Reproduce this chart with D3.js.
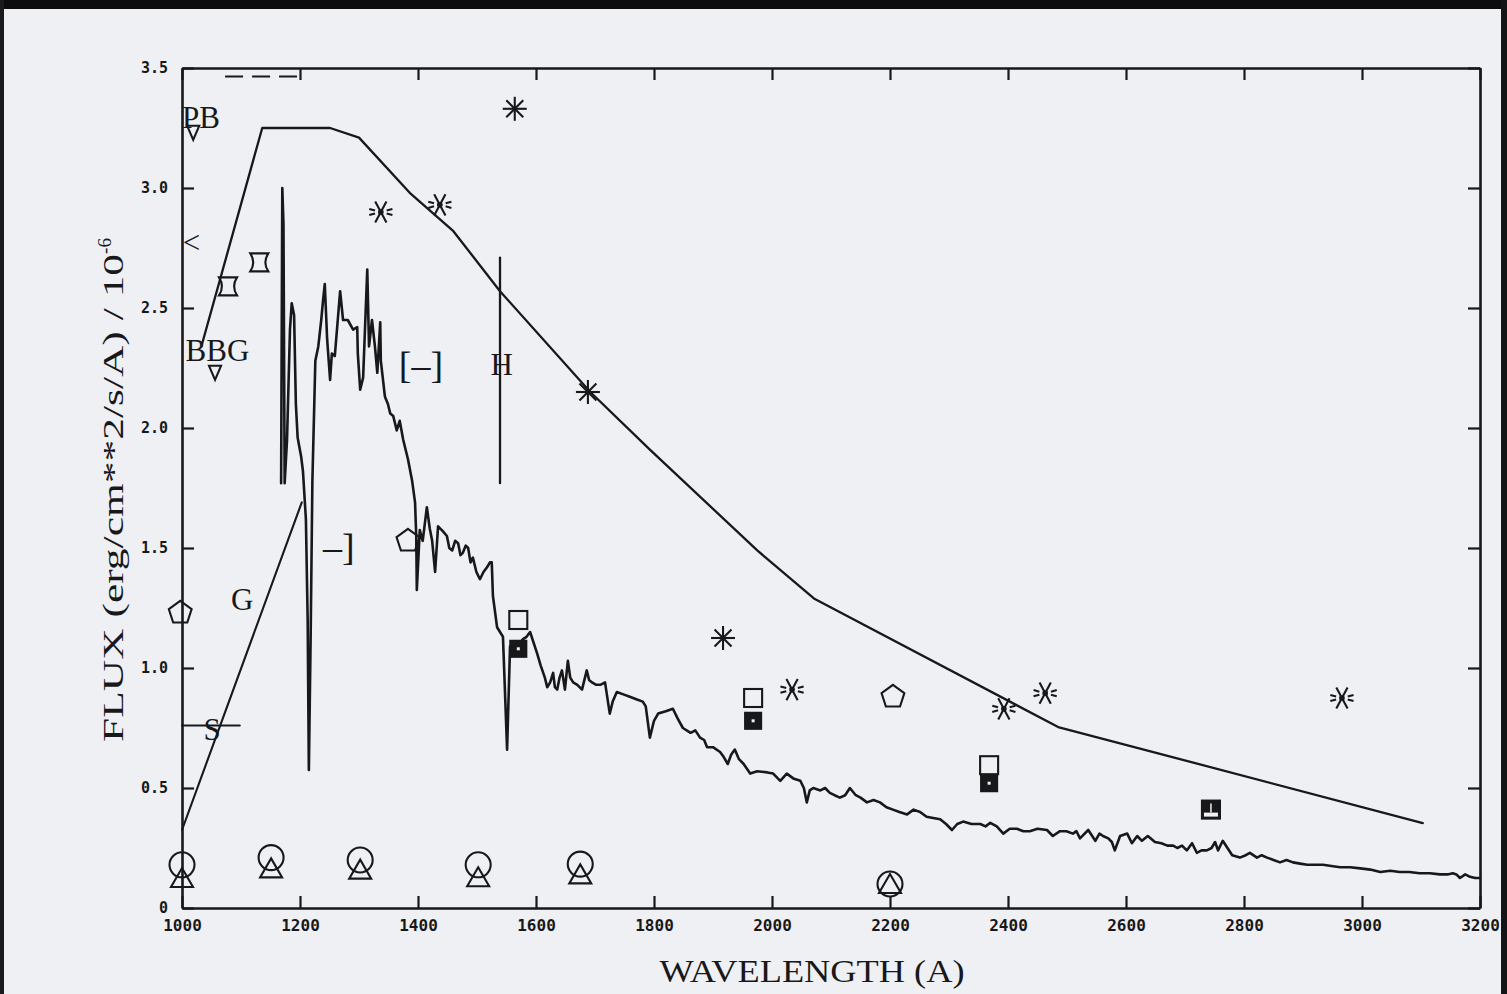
<!DOCTYPE html>
<html>
<head>
<meta charset="utf-8">
<script src="https://cdn.jsdelivr.net/npm/d3@7/dist/d3.min.js"></script>
<style>
  html, body { margin: 0; padding: 0; background: #eff0f4; }
  svg { display: block; }
</style>
</head>
<body>
<svg id="chart" width="1507" height="994"></svg>
<script>
// ---- data (wavelength in Angstrom, flux in 1e-6 erg/cm^2/s/A) ----
const xTicks = [1000, 1200, 1400, 1600, 1800, 2000, 2200, 2400, 2600, 2800, 3000, 3200];
const yTicks = [0, 0.5, 1.0, 1.5, 2.0, 2.5, 3.0, 3.5];

// observed spectrum
const spectrum = [
  [1168,1.77],[1170,3.00],[1172,2.85],[1174,1.77],[1178,1.95],[1183,2.41],[1186,2.52],[1190,2.47],
  [1193,2.10],[1196,1.96],[1199,1.92],[1202,1.88],[1205,1.82],[1210,1.62],[1213,1.20],[1215,0.575],
  [1218,1.12],[1221,1.78],[1226,2.28],[1231,2.34],[1236,2.45],[1239,2.53],[1242,2.60],[1246,2.37],
  [1251,2.20],[1254,2.31],[1259,2.30],[1268,2.57],[1273,2.45],[1281,2.45],[1290,2.41],[1297,2.42],
  [1298,2.31],[1302,2.16],[1307,2.21],[1314,2.66],[1317,2.34],[1322,2.45],[1327,2.34],[1331,2.23],
  [1336,2.44],[1337,2.28],[1344,2.13],[1349,2.10],[1353,2.06],[1358,2.05],[1364,1.99],[1369,2.03],
  [1375,1.95],[1383,1.87],[1390,1.78],[1395,1.69],[1397,1.55],[1398,1.325],[1403,1.575],[1408,1.53],
  [1415,1.67],[1420,1.58],[1424,1.53],[1429,1.40],[1434,1.59],[1442,1.57],[1449,1.55],[1453,1.50],
  [1458,1.49],[1463,1.53],[1468,1.52],[1472,1.47],[1476,1.48],[1481,1.51],[1485,1.50],[1489,1.44],
  [1493,1.46],[1499,1.40],[1505,1.37],[1511,1.40],[1517,1.42],[1522,1.44],[1525,1.44],[1527,1.30],
  [1534,1.17],[1539,1.15],[1544,1.13],[1551,0.66],[1556,1.09],[1564,1.10],[1571,1.10],[1578,1.12],
  [1584,1.13],[1590,1.15],[1602,1.06],[1608,1.01],[1615,0.96],[1619,0.92],[1624,0.94],[1629,0.98],
  [1632,0.92],[1636,0.91],[1640,0.96],[1644,0.99],[1649,0.91],[1654,1.03],[1658,0.96],[1663,0.94],
  [1670,0.93],[1678,0.91],[1686,0.99],[1690,0.95],[1695,0.94],[1702,0.93],[1709,0.93],[1717,0.94],
  [1725,0.81],[1730,0.86],[1737,0.90],[1748,0.89],[1759,0.88],[1770,0.87],[1781,0.86],[1786,0.84],
  [1793,0.71],[1800,0.78],[1807,0.81],[1820,0.82],[1832,0.83],[1840,0.79],[1849,0.75],[1862,0.73],
  [1870,0.74],[1878,0.71],[1885,0.70],[1890,0.67],[1900,0.67],[1912,0.65],[1918,0.63],[1925,0.60],
  [1931,0.64],[1937,0.66],[1944,0.62],[1952,0.60],[1963,0.56],[1975,0.57],[1992,0.565],[2002,0.56],
  [2014,0.53],[2025,0.56],[2036,0.54],[2048,0.53],[2054,0.50],[2059,0.44],[2064,0.49],[2070,0.50],
  [2082,0.49],[2090,0.50],[2098,0.48],[2106,0.47],[2115,0.46],[2124,0.47],[2132,0.50],[2142,0.47],
  [2150,0.46],[2161,0.44],[2172,0.45],[2183,0.44],[2194,0.42],[2205,0.41],[2216,0.40],[2229,0.39],
  [2240,0.41],[2251,0.40],[2262,0.38],[2273,0.375],[2285,0.37],[2295,0.35],[2305,0.325],[2314,0.35],
  [2324,0.36],[2338,0.35],[2353,0.35],[2362,0.34],[2370,0.355],[2381,0.34],[2392,0.31],[2403,0.33],
  [2415,0.33],[2426,0.32],[2437,0.32],[2450,0.33],[2466,0.325],[2476,0.30],[2488,0.32],[2499,0.32],
  [2510,0.31],[2516,0.32],[2522,0.29],[2536,0.325],[2548,0.28],[2555,0.31],[2561,0.30],[2570,0.29],
  [2576,0.275],[2581,0.24],[2590,0.30],[2602,0.31],[2610,0.27],[2619,0.30],[2627,0.28],[2637,0.30],
  [2649,0.275],[2660,0.27],[2670,0.26],[2680,0.26],[2687,0.25],[2695,0.26],[2703,0.24],[2712,0.27],
  [2720,0.23],[2728,0.24],[2737,0.24],[2745,0.25],[2751,0.275],[2756,0.24],[2764,0.28],[2772,0.25],
  [2780,0.22],[2793,0.21],[2803,0.22],[2810,0.23],[2822,0.21],[2830,0.22],[2839,0.21],[2850,0.20],
  [2861,0.19],[2872,0.20],[2883,0.19],[2895,0.185],[2907,0.18],[2920,0.18],[2934,0.18],[2948,0.175],
  [2963,0.17],[2980,0.17],[2997,0.165],[3014,0.16],[3031,0.15],[3048,0.155],[3064,0.15],[3080,0.15],
  [3098,0.145],[3115,0.145],[3132,0.14],[3145,0.14],[3154,0.145],[3160,0.14],[3166,0.125],[3175,0.14],
  [3183,0.13],[3192,0.125],[3200,0.125]
];

// upper envelope
const envelopeWl   = [1034, 1136, 1251, 1300, 1386, 1460, 1539, 1692, 1793, 1975, 2071, 2485, 3103];
const envelopeFlux = [2.35, 3.25, 3.25, 3.21, 2.98, 2.82, 2.57, 2.15, 1.91, 1.49, 1.29, 0.754, 0.354];

// "G" line
const gLineWl   = [1000, 1203];
const gLineFlux = [0.325, 1.69];

// dashed level near the top and the "S" level
const dashWl = [1073, 1195], dashFlux = 3.465;
const sWl = [1000, 1098], sFlux = 0.76;

// vertical bar through the "H" mark
const hBarWl = 1539, hBarFlux = [1.77, 2.71];

// symbol series
const starsSolid  = [[1564,3.33],[1688,2.15],[1917,1.125]];
const starsBroken = [[1337,2.90],[1437,2.93],[2034,0.91],[2393,0.83],[2463,0.895],[2966,0.875]];
const hourglass   = [[1078,2.59],[1131,2.69]];
const triDown     = [[1019,3.23],[1056,2.23]];
const pentagons   = [[997,1.23],[2205,0.88],[1383,1.53]];
const openSquares = [[1570,1.20],[1968,0.875],[2368,0.595]];
const fillSquares = [[1570,1.08],[1968,0.78],[2368,0.52]];
const markedSquare = [[2744,0.41]];
const circles   = [[1000,0.18],[1151,0.21],[1302,0.20],[1502,0.18],[1675,0.183],[2200,0.10]];
const triangles = [[1000,0.125],[1151,0.165],[1302,0.16],[1502,0.128],[1675,0.14],[2200,0.10]];

// text marks
const labels = [
  {t:"PB",  wl:1000, f:3.25, size:31, anchor:"start"},
  {t:"BBG", wl:1006, f:2.28, size:31, anchor:"start"},
  {t:"G",   wl:1102, f:1.24, size:31, anchor:"middle"},
  {t:"S",   wl:1051, f:0.70, size:31, anchor:"middle"},
  {t:"<",   wl:1016, f:2.73, size:31, anchor:"middle"},
  {t:"[\u2013]", wl:1405, f:2.21, size:38, anchor:"middle"},
  {t:"\u2013]",  wl:1266, f:1.45, size:38, anchor:"middle"},
  {t:"H",   wl:1542, f:2.22, size:31, anchor:"middle"}
];

// ---- scales ----
const W = 1507, H = 994;
const x = d3.scaleLinear().domain([1000, 3200]).range([182, 1480]);
const y = d3.scaleLinear().domain([0, 3.5]).range([908, 68]);
const ink = "#18181a";
const paper = "#eff0f4";

const svg = d3.select("#chart");
svg.append("rect").attr("width", W).attr("height", H).attr("fill", paper);

// dark edges of the scanned sheet
svg.append("rect").attr("x", 0).attr("y", 0).attr("width", W).attr("height", 9).attr("fill", "#0c0c0e");
svg.append("rect").attr("x", 0).attr("y", 0).attr("width", 4).attr("height", H).attr("fill", "#1a1a1c");
svg.append("rect").attr("x", W - 6).attr("y", 0).attr("width", 6).attr("height", H).attr("fill", "#141416");

// ---- axes ----
function styleAxis(g) {
  g.selectAll("path.domain").attr("stroke", ink).attr("stroke-width", 2.6);
  g.selectAll(".tick line").attr("stroke", ink).attr("stroke-width", 2.2);
  g.selectAll(".tick text").attr("fill", ink);
}
const fmtY = d => d === 0 ? "0" : d3.format(".1f")(d);

svg.append("g").attr("transform", `translate(0,${y(0)})`)
  .call(d3.axisBottom(x).tickValues(xTicks).tickSize(-12).tickSizeOuter(0).tickPadding(12).tickFormat(d3.format("d")))
  .call(styleAxis)
  .call(g => g.selectAll(".tick text").attr("font-family", "DejaVu Sans Mono").attr("font-weight", "bold").attr("font-size", 16));

svg.append("g").attr("transform", `translate(0,${y(3.5)})`)
  .call(d3.axisTop(x).tickValues(xTicks).tickSize(-12).tickSizeOuter(0).tickFormat(""))
  .call(styleAxis);

svg.append("g").attr("transform", `translate(${x(1000)},0)`)
  .call(d3.axisLeft(y).tickValues(yTicks).tickSize(-12).tickSizeOuter(0).tickPadding(14).tickFormat(fmtY))
  .call(styleAxis)
  .call(g => g.selectAll(".tick text").attr("font-family", "DejaVu Sans Mono").attr("font-weight", "bold").attr("font-size", 15));

svg.append("g").attr("transform", `translate(${x(3200)},0)`)
  .call(d3.axisRight(y).tickValues(yTicks).tickSize(-12).tickSizeOuter(0).tickFormat(""))
  .call(styleAxis);

// ---- axis titles ----
svg.append("text")
  .attr("x", 812).attr("y", 982)
  .attr("text-anchor", "middle")
  .attr("font-family", "Liberation Serif").attr("font-size", 31)
  .attr("textLength", 305).attr("lengthAdjust", "spacingAndGlyphs")
  .attr("fill", ink)
  .text("WAVELENGTH (A)");

const yt = svg.append("text")
  .attr("transform", "translate(123,490) rotate(-90)")
  .attr("text-anchor", "middle")
  .attr("font-family", "Liberation Serif").attr("font-size", 29)
  .attr("fill", ink);
yt.append("tspan").attr("textLength", 488).attr("lengthAdjust", "spacingAndGlyphs").text("FLUX (erg/cm**2/s/A) / 10");
yt.append("tspan").attr("dy", -12).attr("font-size", 19).text("-6");

// ---- lines ----
const line = d3.line().x(d => x(d[0])).y(d => y(d[1]));
const plot = svg.append("g").attr("fill", "none").attr("stroke", ink)
  .attr("stroke-linejoin", "round").attr("stroke-linecap", "round");

plot.append("path").attr("d", line(envelopeWl.map((w, i) => [w, envelopeFlux[i]]))).attr("stroke-width", 2.3);
plot.append("path").attr("d", line(gLineWl.map((w, i) => [w, gLineFlux[i]]))).attr("stroke-width", 2.1);
plot.append("path").attr("d", line(spectrum)).attr("stroke-width", 2.6);
plot.append("path").attr("d", line(dashWl.map(w => [w, dashFlux]))).attr("stroke-width", 2)
  .attr("stroke-dasharray", "18,9").attr("stroke-linecap", "butt");
plot.append("path").attr("d", line(sWl.map(w => [w, sFlux]))).attr("stroke-width", 2);
plot.append("path").attr("d", line(hBarFlux.map(f => [hBarWl, f]))).attr("stroke-width", 2.3);

// ---- symbols ----
const sym = svg.append("g").attr("fill", "none").attr("stroke", ink).attr("stroke-width", 2.1);

function starSolid(g, r) {
  [0, 45, 90, 135].forEach(a => {
    const c = Math.cos(a * Math.PI / 180) * r, s = Math.sin(a * Math.PI / 180) * r;
    g.append("line").attr("x1", -c).attr("y1", -s).attr("x2", c).attr("y2", s);
  });
}
function starBroken(g, r) {
  [62, 118].forEach(a => {
    const c = Math.cos(a * Math.PI / 180) * r, s = Math.sin(a * Math.PI / 180) * r;
    g.append("line").attr("x1", -c).attr("y1", -s).attr("x2", c).attr("y2", s);
  });
  [15, -15, 165, 195].forEach(a => {
    const c = Math.cos(a * Math.PI / 180), s = Math.sin(a * Math.PI / 180);
    g.append("line").attr("x1", c * r * 0.5).attr("y1", s * r * 0.5).attr("x2", c * r).attr("y2", s * r);
  });
  g.append("circle").attr("r", 1.8).attr("fill", ink);
}
const place = (d) => `translate(${x(d[0])},${y(d[1])})`;

starsSolid.forEach(d => starSolid(sym.append("g").attr("transform", place(d)), 12));
starsBroken.forEach(d => starBroken(sym.append("g").attr("transform", place(d)), 12));

hourglass.forEach(d => {
  const s = 9;
  sym.append("path").attr("transform", place(d))
    .attr("d", `M${-s},${-s} L${s},${-s} Q${s * 0.35},0 ${s},${s} L${-s},${s} Q${-s * 0.35},0 ${-s},${-s} Z`);
});

triDown.forEach(d => {
  sym.append("path").attr("transform", place(d)).attr("d", "M-6,-7 L6,-7 L0,7 Z");
});

pentagons.forEach(d => {
  const r = 12;
  const pts = d3.range(5).map(i => {
    const a = -Math.PI / 2 + i * 2 * Math.PI / 5;
    return [Math.cos(a) * r, Math.sin(a) * r];
  });
  sym.append("path").attr("transform", place(d)).attr("d", "M" + pts.join("L") + "Z");
});

openSquares.forEach(d => {
  sym.append("rect").attr("transform", place(d)).attr("x", -9).attr("y", -9).attr("width", 18).attr("height", 18);
});
fillSquares.forEach(d => {
  const g = sym.append("g").attr("transform", place(d));
  g.append("rect").attr("x", -8).attr("y", -8).attr("width", 16).attr("height", 16).attr("fill", ink);
  g.append("rect").attr("x", -1.5).attr("y", -1.5).attr("width", 3).attr("height", 3).attr("fill", paper).attr("stroke", "none");
});
markedSquare.forEach(d => {
  const g = sym.append("g").attr("transform", place(d));
  g.append("rect").attr("x", -9).attr("y", -9).attr("width", 18).attr("height", 18).attr("fill", ink);
  g.append("rect").attr("x", -7).attr("y", 3).attr("width", 14).attr("height", 4).attr("fill", paper).attr("stroke", "none");
  g.append("line").attr("x1", 0).attr("y1", -6).attr("x2", 0).attr("y2", 3).attr("stroke", paper).attr("stroke-width", 1.5);
});

circles.forEach(d => {
  sym.append("circle").attr("cx", x(d[0])).attr("cy", y(d[1])).attr("r", 12.5);
});
triangles.forEach(d => {
  sym.append("path").attr("transform", place(d)).attr("d", "M0,-10 L11,9 L-11,9 Z");
});

// ---- text marks ----
svg.append("g").selectAll("text").data(labels).join("text")
  .attr("x", d => x(d.wl)).attr("y", d => y(d.f))
  .attr("text-anchor", d => d.anchor)
  .attr("font-family", "Liberation Serif").attr("font-size", d => d.size)
  .attr("fill", ink)
  .text(d => d.t);
</script>
</body>
</html>
